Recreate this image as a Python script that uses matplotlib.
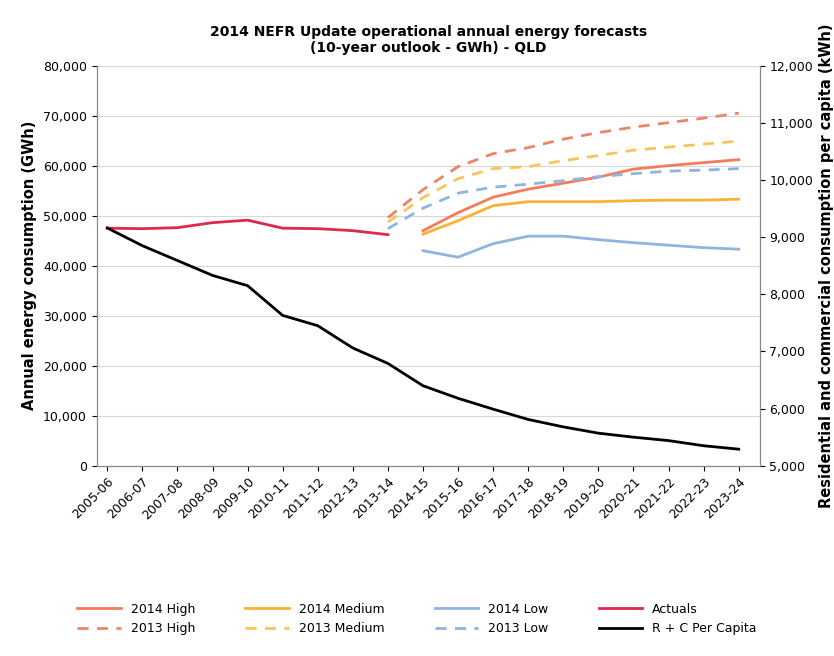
import matplotlib
matplotlib.use("Agg")
import matplotlib.pyplot as plt
import numpy as np

years = ["2005-06","2006-07","2007-08","2008-09","2009-10","2010-11","2011-12","2012-13",
         "2013-14","2014-15","2015-16","2016-17","2017-18","2018-19","2019-20","2020-21",
         "2021-22","2022-23","2023-24"]
actuals = [47500, 47400, 47600, 48600, 49100, 47500, 47400, 47000, 46200]
h2013 = [49600, 55200, 59800, 62400, 63600, 65300, 66600, 67700, 68600, 69500, 70500]
m2013 = [48700, 53600, 57400, 59400, 59800, 61000, 62000, 63100, 63700, 64300, 64900]
l2013 = [47400, 51500, 54500, 55700, 56300, 57000, 57800, 58400, 58900, 59100, 59400]
h2014 = [47000, 50600, 53700, 55300, 56500, 57700, 59300, 60000, 60600, 61200]
m2014 = [46300, 49000, 52000, 52800, 52800, 52800, 53000, 53100, 53100, 53300]
l2014 = [43000, 41700, 44400, 45900, 45900, 45200, 44600, 44100, 43600, 43300]
percap = [9160, 8850, 8590, 8330, 8150, 7630, 7450, 7060, 6790, 6400, 6180, 5990,
          5810, 5680, 5570, 5500, 5440, 5350, 5290]

x = np.arange(len(years))
fig = plt.figure(figsize=(8.34, 6.56), dpi=100)
ax = fig.add_axes([0.116, 0.29, 0.795, 0.61])
ax2 = ax.twinx()

c_h, c_m, c_l, c_a = "#f47c5c", "#f9b233", "#8fb4e0", "#e0284a"
lw = 2
l1, = ax.plot(x[9:], h2014, color=c_h, lw=lw, label="2014 High")
l2, = ax.plot(x[9:], m2014, color=c_m, lw=lw, label="2014 Medium")
l3, = ax.plot(x[9:], l2014, color=c_l, lw=lw, label="2014 Low")
l4, = ax.plot(x[:9], actuals, color=c_a, lw=lw, label="Actuals")
d1, = ax.plot(x[8:], h2013, color="#ec8468", lw=lw, ls=(0, (4, 3)), label="2013 High")
d2, = ax.plot(x[8:], m2013, color="#f9c45a", lw=lw, ls=(0, (4, 3)), label="2013 Medium")
d3, = ax.plot(x[8:], l2013, color=c_l, lw=lw, ls=(0, (4, 3)), label="2013 Low")
b1, = ax2.plot(x, percap, color="black", lw=2, label="R + C Per Capita")

ax.set_ylim(0, 80000)
ax2.set_ylim(5000, 12000)
ax.set_xlim(-0.3, 18.6)
ax.set_yticks(np.arange(0, 80001, 10000))
ax.set_yticklabels([f"{v:,}" for v in range(0, 80001, 10000)], fontsize=9)
ax2.set_yticks(np.arange(5000, 12001, 1000))
ax2.set_yticklabels([f"{v:,}" for v in range(5000, 12001, 1000)], fontsize=9)
ax.set_xticks(x)
ax.set_xticklabels(years, rotation=45, ha="right", rotation_mode="anchor", fontsize=9)
ax.grid(axis="y", color="#d8d8d8", lw=0.8)
ax.set_axisbelow(True)
for a in (ax, ax2):
    a.spines["top"].set_visible(False)
    a.spines["left"].set_color("#888888")
    a.spines["right"].set_color("#888888")
    a.spines["bottom"].set_color("#888888")
ax.set_ylabel("Annual energy consumption (GWh)", fontsize=10.5, fontweight="bold")
ax2.set_ylabel("Residential and commercial consumption per capita (kWh)", fontsize=10.5, fontweight="bold")
ax.set_title("2014 NEFR Update operational annual energy forecasts\n(10-year outlook - GWh) - QLD",
             fontsize=10, fontweight="bold", pad=10)

handles = [l1, d1, l2, d2, l3, d3, l4, b1]
fig.legend(handles=handles, labels=[h.get_label() for h in handles], ncol=4,
           loc="lower center", bbox_to_anchor=(0.5, 0.015), frameon=False, fontsize=9,
           handlelength=3.5, columnspacing=4)
fig.savefig("out.png", dpi=100)
